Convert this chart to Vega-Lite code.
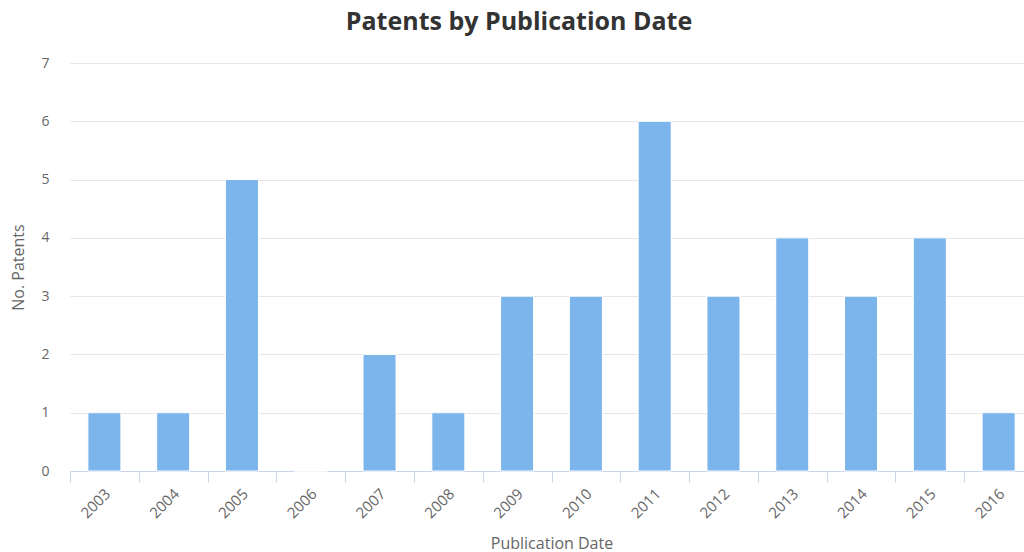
{
  "$schema": "https://vega.github.io/schema/vega-lite/v6.json",
  "width": 954,
  "height": 408,
  "autosize": {"type": "none"},
  "padding": {"left": 70, "top": 63, "right": 0, "bottom": 81},
  "background": "white",
  "title": {
    "text": "Patents by Publication Date",
    "anchor": "middle",
    "frame": "group",
    "dx": -28,
    "offset": 21,
    "font": "Open Sans",
    "fontSize": 25,
    "fontWeight": "bold",
    "color": "#333333"
  },
  "data": {
    "values": [
      {"year": "2003", "patents": 1},
      {"year": "2004", "patents": 1},
      {"year": "2005", "patents": 5},
      {"year": "2006", "patents": 0},
      {"year": "2007", "patents": 2},
      {"year": "2008", "patents": 1},
      {"year": "2009", "patents": 3},
      {"year": "2010", "patents": 3},
      {"year": "2011", "patents": 6},
      {"year": "2012", "patents": 3},
      {"year": "2013", "patents": 4},
      {"year": "2014", "patents": 3},
      {"year": "2015", "patents": 4},
      {"year": "2016", "patents": 1}
    ]
  },
  "mark": {"type": "bar", "color": "#7cb5ec", "stroke": "white", "strokeWidth": 1, "width": {"band": 0.48}},
  "encoding": {
    "x": {
      "field": "year",
      "type": "ordinal",
      "sort": null,
      "scale": {"paddingInner": 0, "paddingOuter": 0, "range": [0, 963]},
      "axis": {
        "title": "Publication Date",
        "titleFont": "Open Sans",
        "titleFontSize": 16,
        "titleFontWeight": "normal",
        "titleColor": "#666666",
        "titleY": 72,
        "titleBaseline": "middle",
        "labelAngle": -45,
        "labelAlign": "right",
        "labelBaseline": "middle",
        "labelFont": "Open Sans",
        "labelFontSize": 15,
        "labelColor": "#666666",
        "labelPadding": 9,
        "labelOffset": 3,
        "tickBand": "extent",
        "tickSize": 11,
        "tickColor": "#ccd6eb",
        "domainColor": "#ccd6eb",
        "grid": false
      }
    },
    "y": {
      "field": "patents",
      "type": "quantitative",
      "scale": {"domain": [0, 7], "nice": false},
      "axis": {
        "title": "No. Patents",
        "titleFont": "Open Sans",
        "titleFontSize": 16,
        "titleFontWeight": "normal",
        "titleColor": "#666666",
        "titleX": -52,
        "titleBaseline": "middle",
        "values": [0, 1, 2, 3, 4, 5, 6, 7],
        "labelFont": "Open Sans",
        "labelFontSize": 14,
        "labelColor": "#666666",
        "labelPadding": 21,
        "ticks": false,
        "domain": false,
        "gridColor": "#e6e6e6",
        "gridWidth": 1
      }
    }
  },
  "config": {"view": {"stroke": null}}
}
